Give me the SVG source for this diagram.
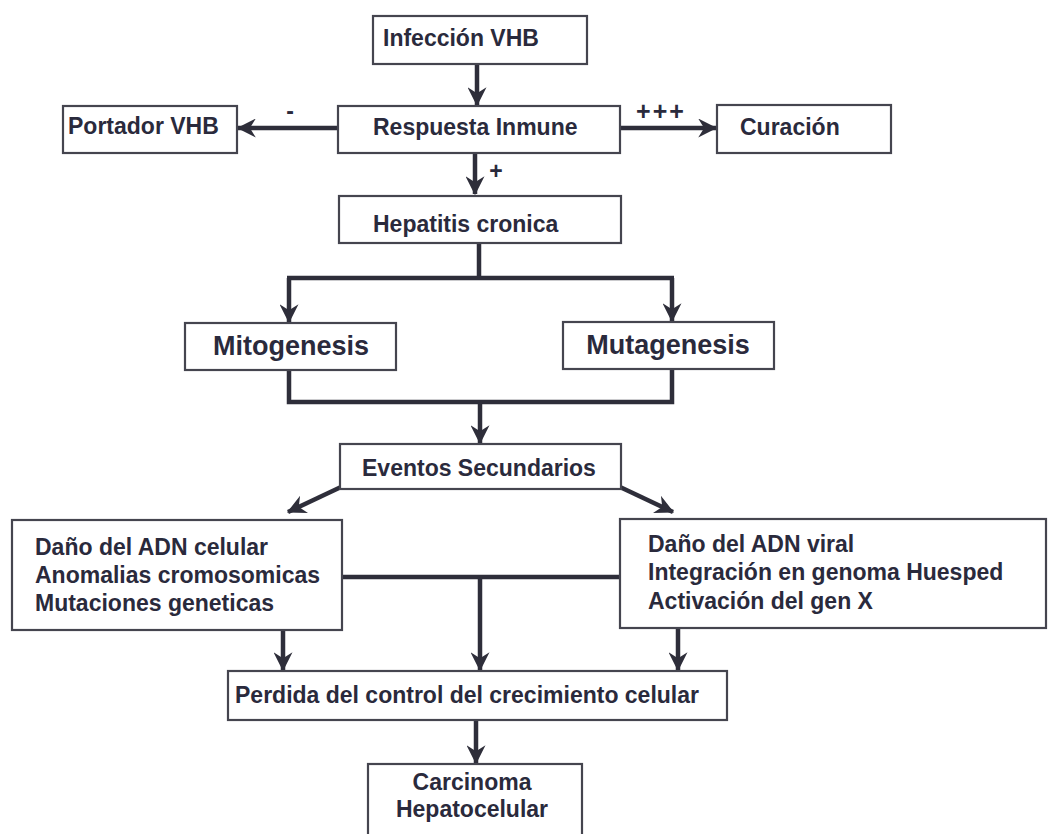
<svg xmlns="http://www.w3.org/2000/svg" width="1050" height="834" viewBox="0 0 1050 834">
<defs>
<style>
.box{fill:#fff;stroke:#45454f;stroke-width:2.2}
.t{font-family:"Liberation Sans",Arial,sans-serif;font-weight:bold;font-size:23px;fill:#2a2a3c}
.big{font-size:27px}
.c{text-anchor:middle}
.ln{fill:none;stroke:#2e2e3a;stroke-width:4.5}
.ar{fill:none;stroke:#2e2e3a;stroke-width:4.5;marker-end:url(#ah)}
</style>
<marker id="ah" viewBox="0 0 16 16" refX="15" refY="8" markerWidth="19" markerHeight="19" markerUnits="userSpaceOnUse" orient="auto">
<path d="M0,0 L16,8 L0,16 L5,8 Z" fill="#2e2e3a"/>
</marker>
</defs>
<rect width="1050" height="834" fill="#fff"/>
<g id="connectors">
<line class="ar" x1="477" y1="64" x2="477" y2="105"/>
<line class="ar" x1="338" y1="128" x2="238" y2="128"/>
<line class="ar" x1="620" y1="128" x2="716" y2="128"/>
<line class="ar" x1="475" y1="153" x2="475" y2="194"/>
<polyline class="ln" points="479,243 479,278"/>
<line class="ln" x1="287" y1="278" x2="674" y2="278"/>
<line class="ar" x1="289" y1="278" x2="289" y2="322"/>
<line class="ar" x1="672" y1="278" x2="672" y2="321"/>
<polyline class="ln" points="289,370 289,402 672,402 672,369"/>
<line class="ar" x1="480" y1="402" x2="480" y2="443"/>
<line class="ar" x1="341" y1="487" x2="288" y2="512"/>
<line class="ar" x1="620" y1="487" x2="673" y2="512"/>
<line class="ln" x1="342" y1="577" x2="620" y2="577"/>
<line class="ar" x1="480" y1="577" x2="480" y2="670"/>
<line class="ar" x1="283" y1="630" x2="283" y2="670"/>
<line class="ar" x1="678" y1="628" x2="678" y2="670"/>
<line class="ar" x1="476" y1="720" x2="476" y2="763"/>
<text class="t" x="290" y="119" text-anchor="middle">-</text>
<text class="t" x="661" y="120" text-anchor="middle" style="font-size:25px;letter-spacing:2px">+++</text>
<text class="t" x="496" y="179" text-anchor="middle">+</text>
</g>
<g id="infeccion"><rect class="box" x="373" y="16" width="214" height="48"/><text class="t" x="383" y="46">Infección VHB</text></g>
<g id="respuesta"><rect class="box" x="338" y="106" width="282" height="47"/><text class="t" x="373" y="135">Respuesta Inmune</text></g>
<g id="portador"><rect class="box" x="63" y="106" width="174" height="47"/><text class="t" x="68" y="134">Portador VHB</text></g>
<g id="curacion"><rect class="box" x="717" y="105" width="174" height="48"/><text class="t" x="740" y="135">Curación</text></g>
<g id="hepatitis"><rect class="box" x="339" y="196" width="282" height="47"/><text class="t" x="373" y="232">Hepatitis cronica</text></g>
<g id="mitogenesis"><rect class="box" x="185" y="323" width="211" height="47"/><text class="t big c" x="291" y="355">Mitogenesis</text></g>
<g id="mutagenesis"><rect class="box" x="563" y="322" width="211" height="47"/><text class="t big c" x="668" y="354">Mutagenesis</text></g>
<g id="eventos"><rect class="box" x="340" y="444" width="281" height="45"/><text class="t" x="362" y="476">Eventos Secundarios</text></g>
<g id="celular"><rect class="box" x="12" y="520" width="330" height="110"/>
<text class="t" x="35" y="555">Daño del ADN celular</text>
<text class="t" x="35" y="583">Anomalias cromosomicas</text>
<text class="t" x="35" y="611">Mutaciones geneticas</text></g>
<g id="viral"><rect class="box" x="620" y="519" width="426" height="109"/>
<text class="t" x="648" y="552">Daño del ADN viral</text>
<text class="t" x="648" y="580">Integración en genoma Huesped</text>
<text class="t" x="648" y="609">Activación del gen X</text></g>
<g id="perdida"><rect class="box" x="228" y="671" width="499" height="49"/><text class="t" x="235" y="703">Perdida del control del crecimiento celular</text></g>
<g id="carcinoma"><rect class="box" x="368" y="764" width="214" height="80"/>
<text class="t c" x="472" y="790">Carcinoma</text>
<text class="t c" x="472" y="817">Hepatocelular</text></g>
</svg>
